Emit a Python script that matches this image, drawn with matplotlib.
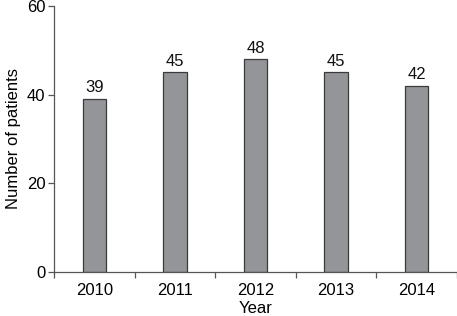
import numpy as np
import matplotlib.pyplot as plt

years = ['2010', '2011', '2012', '2013', '2014']
patients = [39, 45, 48, 45, 42]

plt.rcParams['font.family'] = ['Liberation Sans', 'DejaVu Sans']

fig = plt.figure(figsize=(4.57, 3.16), dpi=100)
ax = fig.add_axes([0.118, 0.140, 0.882, 0.841])

x = np.arange(len(years))
bars = ax.bar(x, patients, width=0.29, color='#939598', edgecolor='#3a3a3a', linewidth=0.9)

for xi, v in zip(x, patients):
    ax.text(xi, v + 0.8, str(v), ha='center', va='bottom', fontsize=12, color='#111111')

ax.set_xlim(-0.5, 4.5)
ax.set_ylim(0, 60)
ax.set_yticks([0, 20, 40, 60])
ax.set_xticks(x)
ax.set_xticklabels(years)
ax.set_xticks(np.arange(-0.5, 5, 1.0), minor=True)
ax.tick_params(axis='x', which='major', length=0, pad=8, labelsize=12)
ax.tick_params(axis='x', which='minor', length=4, width=0.9, color='#555555')
ax.tick_params(axis='y', length=4, width=0.9, color='#555555', labelsize=12, pad=2)

for s in ['top', 'right']:
    ax.spines[s].set_visible(False)
for s in ['left', 'bottom']:
    ax.spines[s].set_color('#555555')
    ax.spines[s].set_linewidth(0.9)

ax.set_xlabel('Year', fontsize=12, labelpad=2)
ax.set_ylabel('Number of patients', fontsize=12, labelpad=4)

fig.savefig('out.png', dpi=100)
